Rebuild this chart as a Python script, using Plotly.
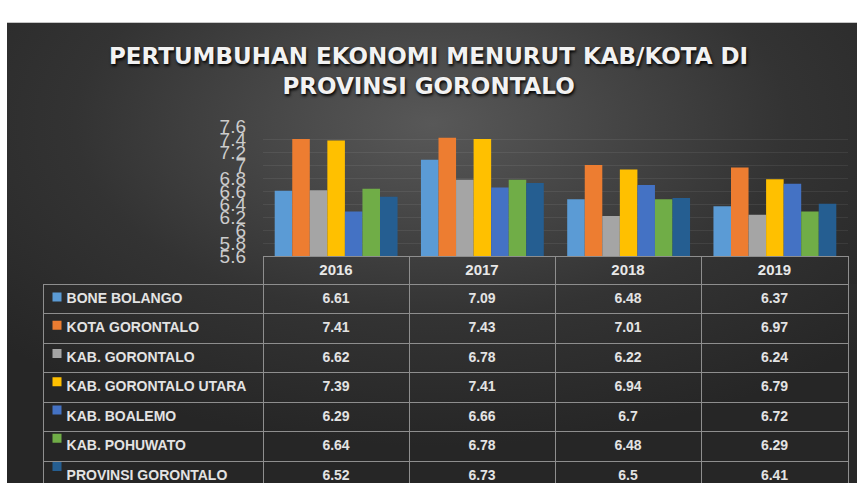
import base64
import plotly.graph_objects as go

W, H = 857, 495

years = ["2016", "2017", "2018", "2019"]
series_names = [
    "BONE BOLANGO",
    "KOTA GORONTALO",
    "KAB. GORONTALO",
    "KAB. GORONTALO UTARA",
    "KAB. BOALEMO",
    "KAB. POHUWATO",
    "PROVINSI GORONTALO",
]
bone_bolango = [6.61, 7.09, 6.48, 6.37]
kota_gorontalo = [7.41, 7.43, 7.01, 6.97]
kab_gorontalo = [6.62, 6.78, 6.22, 6.24]
kab_gorontalo_utara = [7.39, 7.41, 6.94, 6.79]
kab_boalemo = [6.29, 6.66, 6.7, 6.72]
kab_pohuwato = [6.64, 6.78, 6.48, 6.29]
provinsi_gorontalo = [6.52, 6.73, 6.5, 6.41]
series_values = [bone_bolango, kota_gorontalo, kab_gorontalo, kab_gorontalo_utara,
                 kab_boalemo, kab_pohuwato, provinsi_gorontalo]
colors = ["#5b9bd5", "#ed7d31", "#a5a5a5", "#ffc000", "#4472c4", "#70ad47", "#255e91"]
tick_vals = [5.6, 5.8, 6.0, 6.2, 6.4, 6.6, 6.8, 7.0, 7.2, 7.4, 7.6]
tick_text = ["5.6", "5.8", "6", "6.2", "6.4", "6.6", "6.8", "7", "7.2", "7.4", "7.6"]

ROW_H = 29.5
TABLE_TOP = 257
HEAD_H = 28

fig = go.Figure()
for name, vals, col in zip(series_names, series_values, colors):
    fig.add_trace(go.Bar(x=years, y=vals, name=name, marker=dict(color=col, line=dict(width=0)),
                         xaxis="x", yaxis="y", showlegend=False))

# data table
line_col = "#8e8e8e"
NB = "\u00a0"
first_col = [NB * 4 + n.replace(" ", NB) for n in series_names]
cols = [first_col] + [[str(v[i]) for v in series_values] for i in range(len(years))]
fig.add_trace(go.Table(
    domain=dict(x=[43 / W, 848 / W], y=[0, 1 - TABLE_TOP / H]),
    columnwidth=[220, 146, 146, 146, 147],
    header=dict(values=[""] + years, height=HEAD_H,
                fill=dict(color="rgba(0,0,0,0)"),
                line=dict(color=["rgba(0,0,0,0)"] + [line_col] * 4, width=1),
                align="center",
                font=dict(family="Liberation Sans", size=15, color="#e8e8e8", weight="bold")),
    cells=dict(values=cols, height=ROW_H,
               fill=dict(color="rgba(0,0,0,0)"),
               line=dict(color=line_col, width=1),
               align=["left", "center", "center", "center", "center"],
               font=dict(family="Liberation Sans", size=14,
                         color="#e3e3e3", weight="bold")),
))

# legend keys inside the table's first column
body_top = TABLE_TOP + HEAD_H
body_bot = body_top + ROW_H * len(series_names)
fig.add_trace(go.Scatter(
    x=[0] * len(series_names), y=list(range(len(series_names))), mode="markers",
    marker=dict(symbol="square", size=9, color=colors, line=dict(width=0)),
    xaxis="x2", yaxis="y2", showlegend=False, hoverinfo="skip"))

svg = (f'<svg xmlns="http://www.w3.org/2000/svg" width="850" height="481">'
       '<defs><radialGradient id="g" cx="50%" cy="22%" r="70%">'
       '<stop offset="0" stop-color="#585858"/><stop offset="0.6" stop-color="#333333"/>'
       '<stop offset="1" stop-color="#262626"/></radialGradient></defs>'
       '<rect width="850" height="481" fill="url(#g)"/></svg>')
src = "data:image/svg+xml;base64," + base64.b64encode(svg.encode()).decode()

fig.update_layout(
    width=W, height=H,
    margin=dict(l=0, r=0, t=0, b=0),
    paper_bgcolor="white",
    plot_bgcolor="rgba(0,0,0,0)",
    barmode="group", bargap=0.16, bargroupgap=0.0,
    images=[dict(source=src, xref="paper", yref="paper", x=7 / W, y=1 - 13 / H,
                 sizex=850 / W, sizey=481 / H, sizing="stretch", layer="below",
                 xanchor="left", yanchor="top")],
    xaxis=dict(domain=[263 / W, 848 / W], showticklabels=False, showgrid=False,
               zeroline=False, showline=False, ticks=""),
    yaxis=dict(domain=[1 - 257 / H, 1 - 122 / H], range=[5.6, 7.6],
               tickvals=tick_vals, ticktext=tick_text, showgrid=True,
               gridcolor="rgba(255,255,255,0.07)", gridwidth=1, zeroline=False,
               showline=False, ticks="", ticklabelstandoff=16,
               tickfont=dict(family="Liberation Sans", size=19, color="#cccccc")),
    xaxis2=dict(domain=[43 / W, 263 / W], range=[-14, 206], visible=False, fixedrange=True),
    yaxis2=dict(domain=[max(0, 1 - body_bot / H), 1 - body_top / H],
                range=[(body_bot - body_top) / ROW_H - 0.5, -0.5],
                visible=False, fixedrange=True),
    annotations=[dict(
        text="PERTUMBUHAN EKONOMI MENURUT KAB/KOTA DI<br>PROVINSI GORONTALO",
        xref="paper", yref="paper", x=428 / W, y=1 - 64 / H, showarrow=False,
        xanchor="center", yanchor="middle", align="center",
        font=dict(family="DejaVu Sans", size=23, color="#f2f2f2", weight="bold",
                  shadow="1px 2px 3px #000"))],
)

fig.write_html("out.html", config={"displayModeBar": False},
               post_script="document.body.style.margin='0';document.body.style.overflow='hidden';")
